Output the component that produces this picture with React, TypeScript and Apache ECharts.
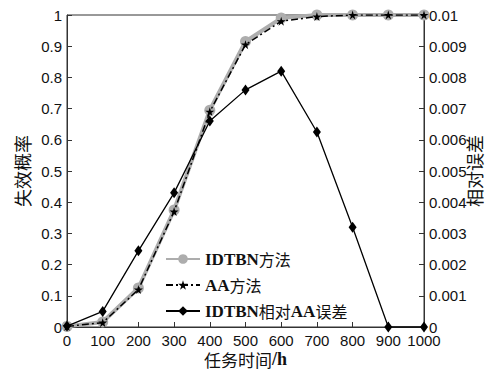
import React, { useEffect, useRef } from "react";
import * as echarts from "echarts";

const times = [0, 100, 200, 300, 400, 500, 600, 700, 800, 900, 1000];
const idtbnValues = [0.002, 0.016, 0.125, 0.375, 0.695, 0.915, 0.99, 1.0, 1.0, 1.0, 1.0];
const aaValues = [0.002, 0.014, 0.12, 0.37, 0.69, 0.905, 0.98, 0.995, 1.0, 1.0, 1.0];
const errorValues = [0.00003, 0.0005, 0.00244, 0.0043, 0.0066, 0.0076, 0.0082, 0.00625, 0.0032, 0.0, 0.0];
const seriesNames = ["IDTBN方法", "AA方法", "IDTBN相对AA误差"];

const STAR =
  "path://M50,0 L61,35 L98,35 L68,57 L79,92 L50,70 L21,92 L32,57 L2,35 L39,35 Z";

export default function App() {
  const ref = useRef<HTMLDivElement>(null);
  useEffect(() => {
    if (!ref.current) return;
    const chart = echarts.init(ref.current, undefined, { renderer: "svg" });
    const pairs = (vals: number[]) => times.map((t, i) => [t, vals[i]]);
    const tickFont = { fontFamily: "Liberation Sans, Arial, sans-serif", fontSize: 15, color: "#111" };
    const serif = "Liberation Serif, Times New Roman, serif";
    const cjk = "Noto Sans CJK SC, sans-serif";
    const richLegend = {
      a: { fontFamily: serif, fontWeight: "bold", fontSize: 17, color: "#111" },
      b: { fontFamily: cjk, fontWeight: "normal", fontSize: 16, color: "#111" },
    };
    const toRich = (s: string) =>
      s.replace(/([A-Za-z\/]+)|([^A-Za-z\/]+)/g, (m, a) => (a ? `{a|${m}}` : `{b|${m}}`));
    chart.setOption({
      animation: false,
      backgroundColor: "#fff",
      grid: {
        left: 67,
        right: 67,
        top: 15,
        bottom: 42,
        show: true,
        borderColor: "#333",
        borderWidth: 1,
        containLabel: false,
        outerBoundsMode: "none",
      },
      legend: {
        orient: "vertical",
        left: 160,
        top: 245,
        itemWidth: 34,
        itemHeight: 12,
        itemGap: 8,
        data: seriesNames,
        formatter: (name: string) => toRich(name),
        textStyle: { rich: richLegend, fontSize: 17, lineHeight: 18 },
      },
      xAxis: {
        type: "value",
        min: 0,
        max: 1000,
        interval: 100,
        name: "{b|任务时间}{a|/h}",
        nameLocation: "middle",
        nameGap: 32,
        nameMoveOverlap: false,
        nameTextStyle: {
          verticalAlign: "middle",
          lineHeight: 16,
          rich: {
            a: { fontFamily: serif, fontWeight: "bold", fontSize: 18, lineHeight: 16, color: "#111" },
            b: { fontFamily: cjk, fontSize: 17, lineHeight: 16, color: "#111" },
          },
        },
        axisLine: { lineStyle: { color: "#333" } },
        axisTick: { inside: true, length: 5, lineStyle: { color: "#333" } },
        axisLabel: { ...tickFont, margin: 6, formatter: (v: number) => String(v) },
        splitLine: { show: false },
      },
      yAxis: [
        {
          type: "value",
          min: 0,
          max: 1,
          interval: 0.1,
          name: "失效概率",
          nameLocation: "middle",
          nameRotate: 90,
          nameGap: 45,
          nameMoveOverlap: false,
          nameTextStyle: { fontFamily: cjk, fontSize: 18, color: "#111", verticalAlign: "middle" },
          axisLine: { show: true, lineStyle: { color: "#333" } },
          axisTick: { show: true, inside: true, length: 5, lineStyle: { color: "#333" } },
          axisLabel: { ...tickFont, margin: 5 },
          splitLine: { show: false },
        },
        {
          type: "value",
          min: 0,
          max: 0.01,
          interval: 0.001,
          position: "right",
          name: "相对误差",
          nameLocation: "middle",
          nameRotate: 90,
          nameGap: 50,
          nameMoveOverlap: false,
          nameTextStyle: { fontFamily: cjk, fontSize: 18, color: "#111", verticalAlign: "middle" },
          axisLine: { show: true, lineStyle: { color: "#333" } },
          axisTick: { show: true, inside: true, length: 5, lineStyle: { color: "#333" } },
          axisLabel: { ...tickFont, margin: 5 },
          splitLine: { show: false },
        },
      ],
      series: [
        {
          name: seriesNames[0],
          type: "line",
          yAxisIndex: 0,
          data: pairs(idtbnValues),
          symbol: "circle",
          symbolSize: 11,
          showAllSymbol: true,
          lineStyle: { color: "#adadad", width: 4 },
          itemStyle: { color: "#adadad", borderWidth: 0 },
          z: 2,
        },
        {
          name: seriesNames[1],
          type: "line",
          yAxisIndex: 0,
          data: pairs(aaValues),
          symbol: STAR,
          symbolSize: 9,
          showAllSymbol: true,
          lineStyle: { color: "#000", width: 1.5, type: [7, 3, 2, 3] },
          itemStyle: { color: "#000", borderWidth: 0 },
          z: 3,
        },
        {
          name: seriesNames[2],
          type: "line",
          yAxisIndex: 1,
          data: pairs(errorValues),
          symbol: "diamond",
          symbolSize: [8, 11],
          showAllSymbol: true,
          lineStyle: { color: "#000", width: 1.3 },
          itemStyle: { color: "#000", borderWidth: 0 },
          z: 4,
        },
      ],
    });
    return () => chart.dispose();
  }, []);
  return <div ref={ref} style={{ width: 491, height: 369, position: "absolute", left: 0, top: 0 }} />;
}
